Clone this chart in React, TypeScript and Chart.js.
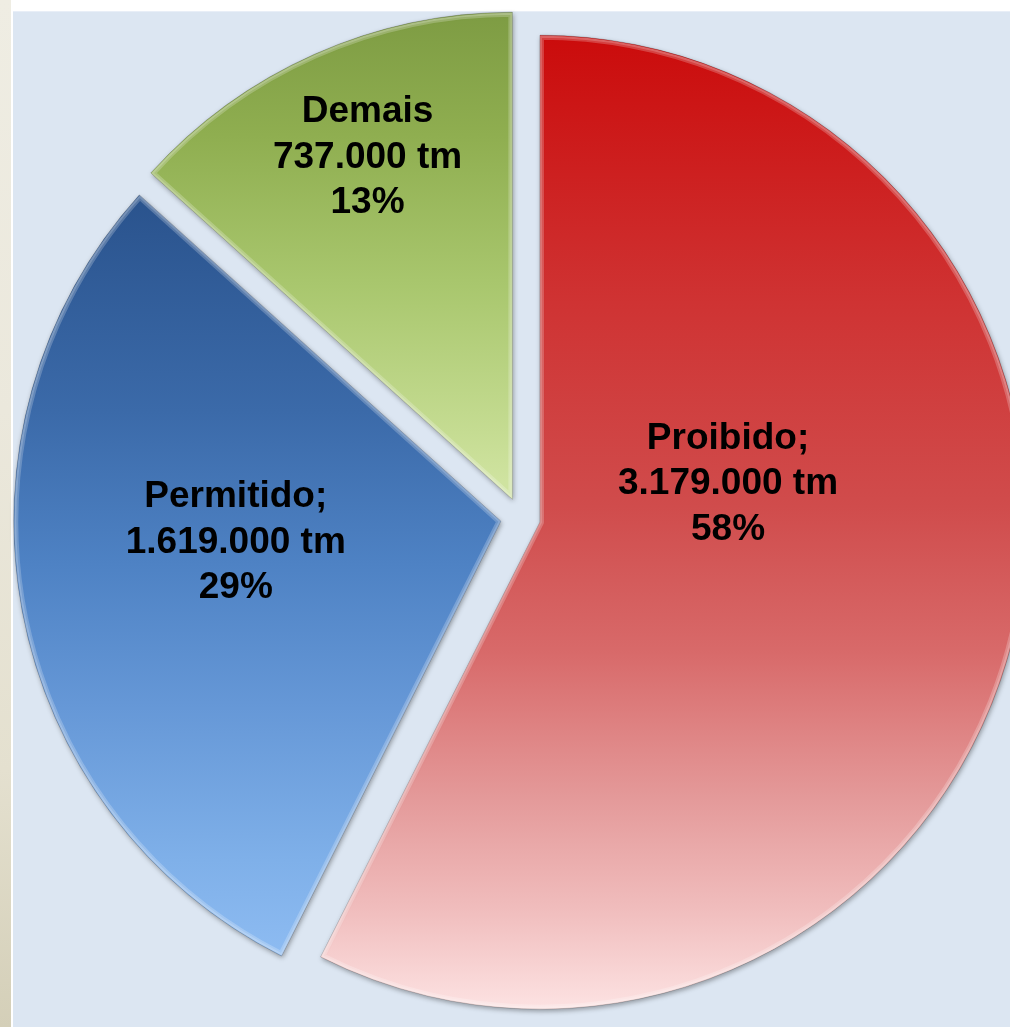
import { useEffect, useRef } from "react";
import { Chart, registerables } from "chart.js";

Chart.register(...registerables);

// ---- data ----
const categories = ["Proibido", "Permitido", "Demais"];
const nameSuffix = [";", ";", ""];
const tonnes = [3179000, 1619000, 737000];
const percentLabels = ["58%", "29%", "13%"];

// ---- styles ----
const gradientStops: [number, string][][] = [
  [
    [0, "#cb0c0c"],
    [0.27, "#cf3333"],
    [0.48, "#d04c4c"],
    [0.63, "#d86a6a"],
    [0.78, "#e49a9a"],
    [0.89, "#f0bcbc"],
    [1, "#fde4e4"],
  ],
  [
    [0, "#2a538d"],
    [0.28, "#3b6aa9"],
    [0.48, "#4e82c4"],
    [0.67, "#6698d7"],
    [0.87, "#7fb0e9"],
    [1, "#8ebcf2"],
  ],
  [
    [0, "#7b9941"],
    [0.29, "#8fae50"],
    [0.6, "#a9c76e"],
    [0.9, "#c5dc92"],
    [1, "#cfe3a0"],
  ],
];
const solidColors = ["#d04c4c", "#4e82c4", "#a9c76e"];
const EXPLODE = 20;
const RADIUS = 487;
const labelPlacement = [
  { dist: 0.394, turn: -24.8 },
  { dist: 0.546, turn: 6.0 },
  { dist: 0.762, turn: 1.0 },
];
const LABEL_FONT = 'bold 37px "Liberation Sans", Arial, sans-serif';
const LINE_HEIGHT = 45.5;

function formatTonnes(v: number) {
  return String(v).replace(/\B(?=(\d{3})+(?!\d))/g, ".") + " tm";
}

function sliceBounds(chart: any, index: number): [number, number] {
  const area = chart.chartArea;
  const cy = (area.top + area.bottom) / 2;
  const vals = chart.data.datasets[0].data as number[];
  const total = vals.reduce((a, b) => a + b, 0);
  let a0 = -Math.PI / 2;
  for (let j = 0; j < index; j++) a0 += (vals[j] / total) * Math.PI * 2;
  const a1 = a0 + (vals[index] / total) * Math.PI * 2;
  const mid = (a0 + a1) / 2;
  const oy = Math.sin(mid) * EXPLODE;
  const ys = [0, Math.sin(a0) * RADIUS, Math.sin(a1) * RADIUS];
  for (const k of [-Math.PI / 2, Math.PI / 2, (3 * Math.PI) / 2]) {
    if (k >= a0 - 1e-9 && k <= a1 + 1e-9) ys.push(Math.sin(k) * RADIUS);
  }
  return [cy + oy + Math.min(...ys), cy + oy + Math.max(...ys)];
}

const explodePlugin = {
  id: "explodeSlices",
  beforeDatasetDraw(chart: any, args: any) {
    const ctx = chart.ctx;
    args.meta.data.forEach((el: any) => {
      const mid = (el.startAngle + el.endAngle) / 2;
      ctx.save();
      ctx.translate(Math.cos(mid) * EXPLODE, Math.sin(mid) * EXPLODE);
      ctx.save();
      ctx.shadowColor = "rgba(0,0,0,0.35)";
      ctx.shadowBlur = 5;
      ctx.shadowOffsetX = 1;
      ctx.shadowOffsetY = 2;
      el.draw(ctx, chart.chartArea);
      ctx.restore();
      // soft bevel highlight along the slice edges
      ctx.beginPath();
      ctx.moveTo(el.x, el.y);
      ctx.arc(el.x, el.y, el.outerRadius - 0.5, el.startAngle, el.endAngle);
      ctx.closePath();
      ctx.clip();
      ctx.lineJoin = "round";
      ctx.strokeStyle = "rgba(255,255,255,0.22)";
      ctx.lineWidth = 8;
      ctx.stroke();
      ctx.strokeStyle = "rgba(255,255,255,0.18)";
      ctx.lineWidth = 4;
      ctx.stroke();
      ctx.restore();
    });
    return false;
  },
};

const labelPlugin = {
  id: "sliceLabels",
  afterDatasetsDraw(chart: any) {
    const ctx = chart.ctx;
    const meta = chart.getDatasetMeta(0);
    ctx.save();
    ctx.font = LABEL_FONT;
    ctx.fillStyle = "#000000";
    ctx.textAlign = "center";
    ctx.textBaseline = "middle";
    meta.data.forEach((el: any, i: number) => {
      const mid = (el.startAngle + el.endAngle) / 2;
      const bx = el.x + Math.cos(mid) * EXPLODE;
      const by = el.y + Math.sin(mid) * EXPLODE;
      const p = labelPlacement[i];
      const ang = mid + (p.turn * Math.PI) / 180;
      const x = bx + Math.cos(ang) * p.dist * el.outerRadius;
      const y = by + Math.sin(ang) * p.dist * el.outerRadius;
      const lines = [
        categories[i] + nameSuffix[i],
        formatTonnes(tonnes[i]),
        percentLabels[i],
      ];
      lines.forEach((t, k) => {
        ctx.fillText(t, x, y + (k - 1) * LINE_HEIGHT);
      });
    });
    ctx.restore();
  },
};

export default function App() {
  const ref = useRef<HTMLCanvasElement | null>(null);

  useEffect(() => {
    if (!ref.current) return;
    const chart = new Chart(ref.current, {
      type: "pie",
      data: {
        labels: categories,
        datasets: [
          {
            data: tonnes,
            radius: RADIUS,
            offset: 0,
            borderWidth: 1,
            borderColor: "rgba(0,0,0,0.18)",
            backgroundColor: (c: any) => {
              const chart = c.chart;
              const i = c.dataIndex;
              if (!chart.chartArea || i === undefined) return solidColors[i ?? 0];
              const [y0, y1] = sliceBounds(chart, i);
              const g = chart.ctx.createLinearGradient(0, y0, 0, y1);
              gradientStops[i].forEach(([o, col]) => g.addColorStop(o, col));
              return g;
            },
          } as any,
        ],
      },
      options: {
        animation: false,
        responsive: false,
        events: [],
        radius: RADIUS,
        layout: { padding: { left: 31, right: 0, top: 8, bottom: 0 } },
        plugins: {
          legend: { display: false },
          tooltip: { enabled: false },
        },
      } as any,
      plugins: [explodePlugin, labelPlugin],
    });
    return () => chart.destroy();
  }, []);

  return (
    <div
      style={{
        position: "fixed",
        left: 0,
        top: 0,
        width: 1010,
        height: 1027,
        overflow: "hidden",
        background: "#ffffff",
      }}
    >
      <div
        style={{
          position: "absolute",
          left: 0,
          top: 0,
          width: 11,
          height: 1027,
          background:
            "linear-gradient(180deg, #efede3 0%, #ebe8dc 40%, #e4e0cf 75%, #d4cfb8 100%)",
        }}
      />
      <div
        style={{
          position: "absolute",
          left: 13,
          top: 11,
          right: 0,
          bottom: 0,
          background: "#dce6f2",
          borderTop: "1px solid #e8eef7",
        }}
      />
      <canvas
        ref={ref}
        width={1010}
        height={1027}
        style={{ position: "absolute", left: 0, top: 0, display: "block" }}
      />
    </div>
  );
}
